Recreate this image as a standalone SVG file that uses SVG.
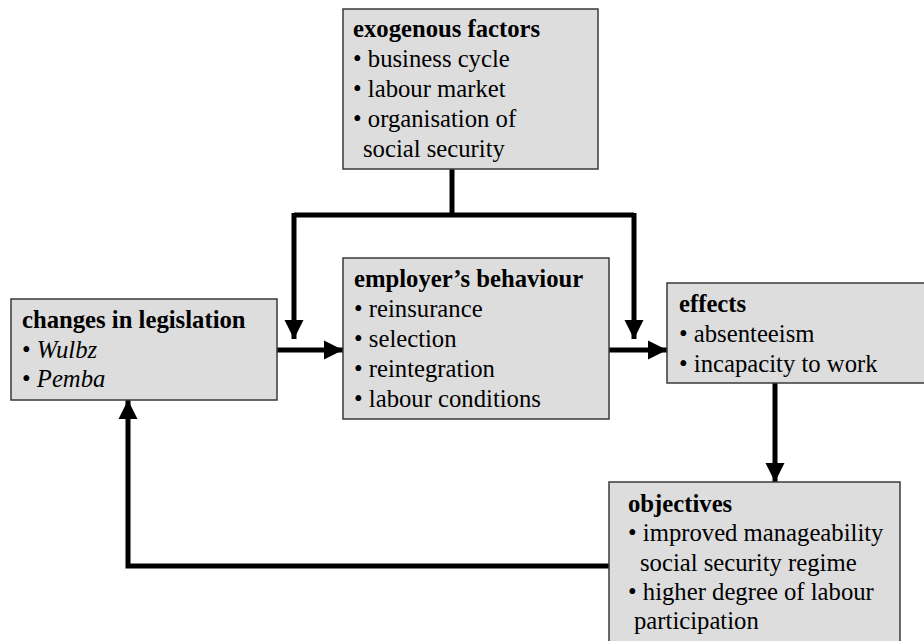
<svg xmlns="http://www.w3.org/2000/svg" width="924" height="641" viewBox="0 0 924 641">
<style>
.box{fill:#dddddd;stroke:#3a3a3a;stroke-width:1.5}
.c{fill:none;stroke:#000;stroke-width:5}
</style>
<defs>
<marker id="ah" markerUnits="userSpaceOnUse" markerWidth="22" markerHeight="22" viewBox="0 0 22 22" refX="19" refY="11" orient="auto">
<path d="M0,1.5 L19,11 L0,20.5 Z" fill="#000"/>
</marker>
</defs>
<rect width="924" height="641" fill="#fff"/>
<g id="connectors">
<path class="c" d="M452,169 V215"/>
<path class="c" d="M294,215 H634"/>
<path class="c" d="M294,213 V339" marker-end="url(#ah)"/>
<path class="c" d="M634,213 V339" marker-end="url(#ah)"/>
<path class="c" d="M277,350 H343" marker-end="url(#ah)"/>
<path class="c" d="M609,350 H667" marker-end="url(#ah)"/>
<path class="c" d="M775,383 V482" marker-end="url(#ah)"/>
<path class="c" d="M609,566 H128 V400" marker-end="url(#ah)"/>
</g>
<g font-family="Liberation Serif, Times New Roman, serif" font-size="24.7" fill="#000">
<g id="exogenous">
<rect class="box" x="343" y="9" width="255" height="160"/>
<text font-weight="bold" x="353" y="37">exogenous factors</text>
<text x="353" y="67">• business cycle</text>
<text x="353" y="97">• labour market</text>
<text x="353" y="127">• organisation of</text>
<text x="363" y="157">social security</text>
</g>
<g id="changes">
<rect class="box" x="11" y="299" width="266" height="101"/>
<text font-weight="bold" x="22" y="328">changes in legislation</text>
<text x="22" y="358">• <tspan font-style="italic">Wulbz</tspan></text>
<text x="22" y="387">• <tspan font-style="italic">Pemba</tspan></text>
</g>
<g id="employer">
<rect class="box" x="343" y="258" width="266" height="161"/>
<text font-weight="bold" x="354" y="287">employer’s behaviour</text>
<text x="354" y="317">• reinsurance</text>
<text x="354" y="347">• selection</text>
<text x="354" y="377">• reintegration</text>
<text x="354" y="407">• labour conditions</text>
</g>
<g id="effects">
<rect class="box" x="667" y="283" width="260" height="100"/>
<text font-weight="bold" x="679" y="312">effects</text>
<text x="679" y="342">• absenteeism</text>
<text x="679" y="372">• incapacity to work</text>
</g>
<g id="objectives">
<rect class="box" x="609" y="482" width="291" height="165"/>
<text font-weight="bold" x="628" y="512">objectives</text>
<text x="628" y="541">• improved manageability</text>
<text x="640" y="571">social security regime</text>
<text x="628" y="600">• higher degree of labour</text>
<text x="634" y="629">participation</text>
</g>
</g>
</svg>
